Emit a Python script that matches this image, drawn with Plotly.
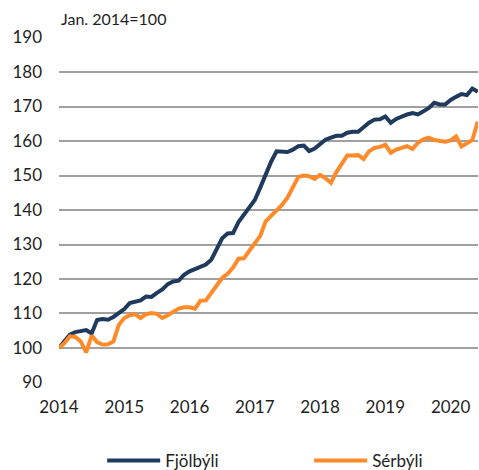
import plotly.graph_objects as go

# Monthly index, Jan 2014 = 100 (Jan 2014 .. Jun 2020)
start_year = 2014
fjolbyli = [100.0, 101.8, 103.9, 104.6, 105.0, 105.2, 104.2, 108.1, 108.4, 108.2, 109.0, 110.0,
            111.3, 113.0, 113.5, 113.8, 114.9, 114.8, 116.0, 117.0, 118.5, 119.3, 119.5, 121.2,
            122.2, 122.8, 123.4, 124.2, 125.6, 128.5, 131.8, 133.2, 133.3, 136.5, 138.8, 140.7,
            142.9, 146.5, 150.3, 154.0, 157.0, 156.8, 156.8, 157.5, 158.5, 158.7, 157.1, 157.8,
            159.0, 160.4, 161.0, 161.5, 161.5, 162.4, 162.7, 162.7, 164.0, 165.3, 166.2, 166.3,
            167.1, 165.3, 166.4, 167.1, 167.7, 168.1, 167.7, 168.6, 169.6, 171.1, 170.6, 170.6,
            171.9, 172.8, 173.6, 173.3, 175.2, 174.3]
serbyli = [100.0, 101.4, 103.4, 103.2, 101.9, 98.7, 103.6, 101.7, 101.0, 101.1, 101.9, 106.7,
           108.7, 109.5, 109.8, 108.7, 109.8, 110.1, 109.9, 108.7, 109.5, 110.5, 111.4, 111.8,
           111.8, 111.4, 113.7, 113.8, 115.9, 118.0, 120.3, 121.5, 123.3, 125.9, 126.0, 128.2,
           130.5, 132.5, 136.7, 138.3, 139.6, 141.5, 143.6, 146.8, 149.6, 150.0, 149.8, 149.0,
           150.2, 149.2, 147.9, 151.0, 153.5, 155.8, 155.8, 155.9, 154.8, 157.0, 158.0, 158.3,
           158.9, 156.6, 157.5, 157.9, 158.5, 157.7, 159.5, 160.5, 161.0, 160.3, 160.0, 159.8,
           160.2, 161.3, 158.4, 159.3, 160.3, 165.6]
x_years = [start_year + i / 12 for i in range(len(fjolbyli))]
year_ticks = [2014, 2015, 2016, 2017, 2018, 2019, 2020]
year_labels = [str(y) for y in year_ticks]
y_ticks = [90, 100, 110, 120, 130, 140, 150, 160, 170, 180, 190]

FONT = "Lato"
TXT = "#1e1e1e"
fig = go.Figure()
fig.add_trace(go.Scatter(x=x_years, y=fjolbyli, mode="lines", name="Fjölbýli",
                         line=dict(color="#1f3a5c", width=4), legend="legend"))
fig.add_trace(go.Scatter(x=x_years, y=serbyli, mode="lines", name="Sérbýli",
                         line=dict(color="#ff8a2a", width=4), legend="legend2"))

leg_common = dict(orientation="h", y=-0.225, yanchor="middle", bgcolor="rgba(0,0,0,0)",
                  itemwidth=53, font=dict(family=FONT, size=17, color=TXT))
fig.update_layout(
    width=479, height=470,
    margin=dict(l=59, r=1, t=37, b=87, autoexpand=False),
    paper_bgcolor="white", plot_bgcolor="white",
    font=dict(family=FONT, size=17, color=TXT),
    showlegend=True,
    legend=dict(x=0.103, xanchor="left", **leg_common),
    legend2=dict(x=0.597, xanchor="left", **leg_common),
    annotations=[dict(text="Jan. 2014=100", xref="paper", yref="paper", x=0.0, y=1.0,
                      xanchor="left", yanchor="bottom", yshift=7, showarrow=False,
                      font=dict(family=FONT, size=16, color=TXT))],
)
fig.update_xaxes(range=[2014, 2014 + 77 / 12 + 0.003], tickvals=year_ticks, ticktext=year_labels,
                 showgrid=False, zeroline=False, showline=False, ticks="", automargin=False,
                 ticklabelstandoff=12, tickfont=dict(size=17))
fig.update_yaxes(range=[89.85, 190.15], tickvals=y_ticks, showgrid=True, gridcolor="#a0a0a0",
                 gridwidth=2, zeroline=False, showline=False, ticks="", automargin=False,
                 ticklabelstandoff=16, tickfont=dict(size=17))

fig.write_html("out.html", config={"displayModeBar": False},
               post_script="document.body.style.margin='0px';")
